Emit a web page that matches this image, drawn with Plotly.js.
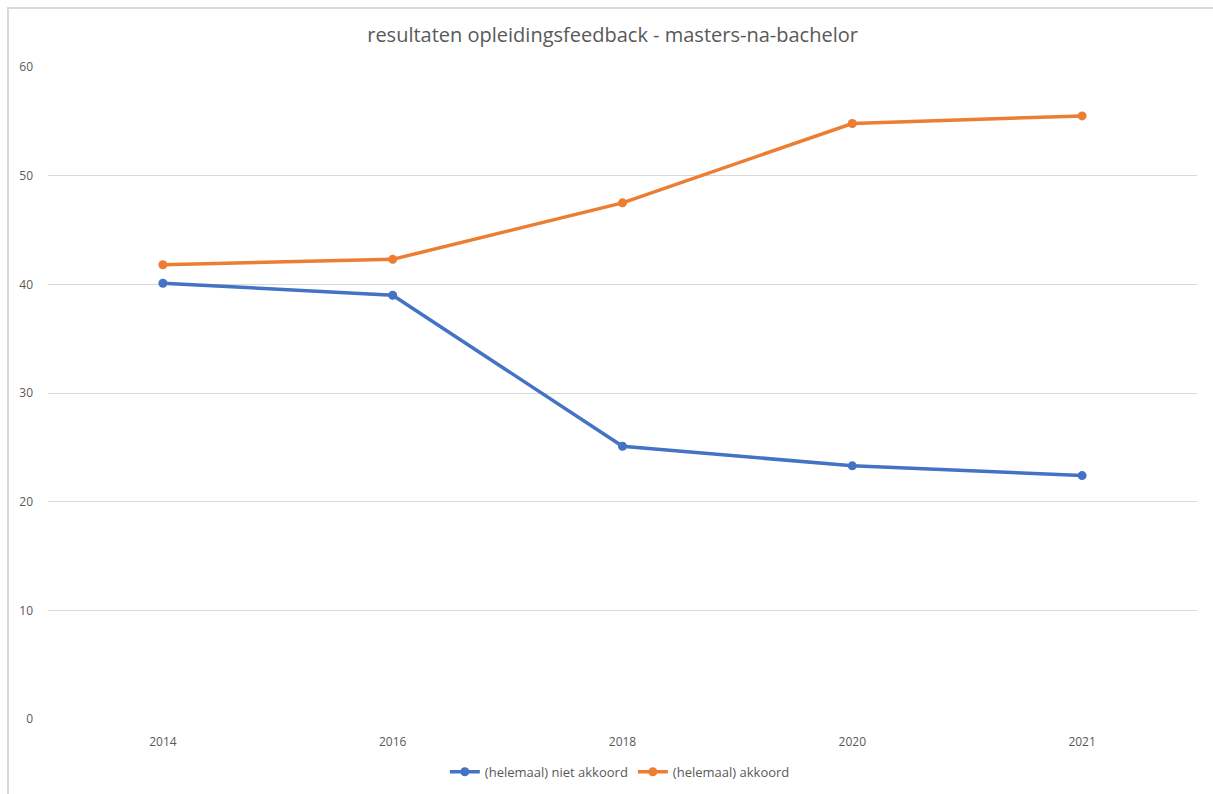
<!DOCTYPE html>
<html>
<head>
<meta charset="utf-8">
<script src="https://cdn.plot.ly/plotly-3.0.1.min.js"></script>
<style>
  html, body { margin: 0; padding: 0; background: #ffffff; }
  #wrap { position: relative; width: 1213px; height: 794px; overflow: hidden; }
  #frame { position: absolute; left: 7px; top: 7px; width: 1300px; height: 900px;
           border-left: 2px solid #d9d9d9; border-top: 2px solid #d9d9d9; pointer-events: none; }
  #chart { position: absolute; left: 0; top: 0; width: 1213px; height: 794px; }
</style>
</head>
<body>
<div id="wrap">
  <div id="chart"></div>
  <div id="frame"></div>
</div>
<script>
const years = ['2014', '2016', '2018', '2020', '2021'];
const nietAkkoord = [40.1, 39.0, 25.1, 23.3, 22.4];
const akkoord = [41.8, 42.3, 47.5, 54.8, 55.5];
const seriesNames = ['(helemaal) niet akkoord', '(helemaal) akkoord'];
const yTicks = [0, 10, 20, 30, 40, 50, 60];
const chartTitle = 'resultaten opleidingsfeedback - masters-na-bachelor';

const fontFam = 'Open Sans, Noto Sans, sans-serif';
const textCol = '#595959';

const traces = [
  { x: years, y: nietAkkoord, name: seriesNames[0], type: 'scatter', mode: 'lines+markers',
    line: { color: '#4472C4', width: 3.5 }, marker: { color: '#4472C4', size: 9 } },
  { x: years, y: akkoord, name: seriesNames[1], type: 'scatter', mode: 'lines+markers',
    line: { color: '#ED7D31', width: 3.5 }, marker: { color: '#ED7D31', size: 9 } }
];

const layout = {
  width: 1213, height: 794,
  margin: { l: 48, r: 16, t: 67, b: 75, autoexpand: false },
  paper_bgcolor: '#ffffff', plot_bgcolor: '#ffffff',
  font: { family: fontFam, color: textCol, size: 12 },
  title: { text: chartTitle, x: 0.505, xanchor: 'center', y: 0.956, yanchor: 'middle',
           font: { family: fontFam, size: 20, color: textCol } },
  xaxis: { type: 'category', range: [-0.5, 4.5], showgrid: false, zeroline: false,
           showline: false, ticks: '', ticklabelstandoff: 14, automargin: false,
           tickfont: { size: 12, color: textCol } },
  yaxis: { range: [0, 60], tickvals: yTicks, showgrid: true, gridcolor: '#d9d9d9', gridwidth: 1,
           zeroline: false, showline: false, ticks: '', ticklabelstandoff: 14, automargin: false,
           tickfont: { size: 12, color: textCol } },
  showlegend: true,
  legend: { orientation: 'h', x: 0.511, xanchor: 'center', xref: 'container',
            y: 0.028, yanchor: 'middle', yref: 'container',
            font: { size: 13, color: textCol }, itemwidth: 30, tracegroupgap: 0 },
  hovermode: false
};

Plotly.newPlot('chart', traces, layout, { displayModeBar: false, staticPlot: true });
</script>
</body>
</html>
